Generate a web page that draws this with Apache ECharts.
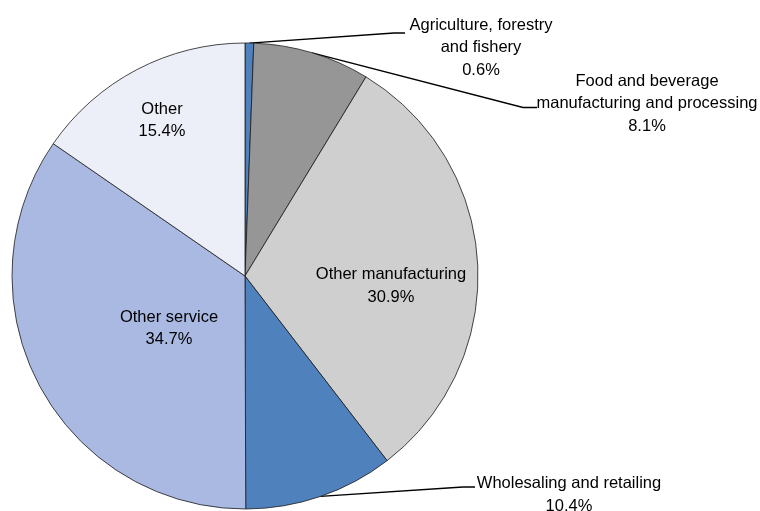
<!DOCTYPE html>
<html>
<head>
<meta charset="utf-8">
<script src="https://cdn.jsdelivr.net/npm/echarts@6/dist/echarts.min.js"></script>
<style>
  html, body { margin: 0; padding: 0; background: #ffffff; }
  #chart { width: 760px; height: 511px; }
</style>
</head>
<body>
<div id="chart"></div>
<script>
// Sector shares (%), clockwise from 12 o'clock
const categories = [
  'Agriculture, forestry\nand fishery',
  'Food and beverage\nmanufacturing and processing',
  'Other manufacturing',
  'Wholesaling and retailing',
  'Other service',
  'Other'
];
const shares = [0.6, 8.1, 30.9, 10.4, 34.7, 15.4];
const sliceColors = ['#4f81bd', '#969696', '#cfcfcf', '#4f81bd', '#a9b9e2', '#eceff7'];

// Label placement (text block centre) and leader line bends for the outer labels
const labelPlacement = [
  { x: 481, y: 47.5, bend: [394, 33], end: [405, 33] },
  { x: 647, y: 103.5, bend: [523, 107.5], end: [537, 107.5] },
  { x: 391, y: 286 },
  { x: 569, y: 495, bend: [463, 487], end: [475, 487] },
  { x: 169, y: 328.5 },
  { x: 162, y: 120.5 }
];

const FONT = '"Liberation Sans", Arial, sans-serif';

const data = categories.map(function (name, i) {
  const outer = !!labelPlacement[i].bend;
  return {
    name: name,
    value: shares[i],
    itemStyle: { color: sliceColors[i] },
    label: { position: outer ? 'outside' : 'inside' },
    labelLine: { show: outer }
  };
});

const chart = echarts.init(document.getElementById('chart'), null, { renderer: 'canvas' });
chart.setOption({
  animation: false,
  backgroundColor: '#ffffff',
  series: [{
    type: 'pie',
    center: [245, 276],
    radius: 233,
    startAngle: 90,
    clockwise: true,
    avoidLabelOverlap: false,
    silent: true,
    data: data,
    itemStyle: { borderColor: '#1a1a1a', borderWidth: 0.8 },
    label: {
      show: true,
      color: '#000000',
      fontFamily: FONT,
      fontSize: 16.5,
      lineHeight: 22.5,
      align: 'center',
      overflow: 'none',
      formatter: function (p) { return p.name + '\n' + p.value.toFixed(1) + '%'; }
    },
    labelLine: {
      show: true,
      length: 10,
      length2: 10,
      lineStyle: { color: '#000000', width: 1.3 }
    },
    labelLayout: function (params) {
      const pl = labelPlacement[params.dataIndex];
      const out = { x: pl.x, y: pl.y, align: 'center', verticalAlign: 'middle' };
      if (pl.bend && params.labelLinePoints) {
        out.labelLinePoints = [params.labelLinePoints[0], pl.bend, pl.end];
      }
      return out;
    }
  }]
});
</script>
</body>
</html>
